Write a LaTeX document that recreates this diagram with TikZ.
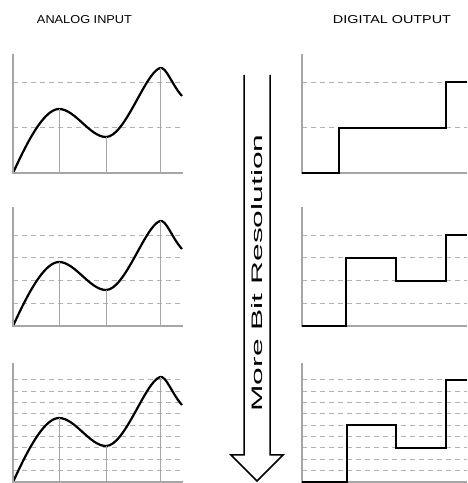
\documentclass[tikz,border=0pt]{standalone}
\usepackage{fontspec}
\setmainfont{Liberation Sans}
\usepackage{graphicx}
\tikzset{
 axisline/.style={black!35,line width=2pt},
 gridline/.style={black!30,line width=1pt,dash pattern=on 5pt off 4pt},
 sampleline/.style={black!35,line width=1pt},
 wave/.style={black,line width=2.2pt},
 stepline/.style={black,line width=2pt},
 bigarrow/.style={black,line width=1.5pt,fill=white,line join=miter},
}
\def\lev{11.35}

\begin{document}
\begin{tikzpicture}[x=1pt,y=1pt]
\useasboundingbox (0,0) rectangle (467,483);
\node[inner sep=0] (ain) at (84.5,463) {\resizebox{95pt}{8pt}{ANALOG INPUT}};
\node[inner sep=0] (dout) at (392,463) {\resizebox{118pt}{8pt}{DIGITAL OUTPUT}};
% rows: coarse to fine quantisation
\foreach \by/\lst/\xa/\la/\lb/\lc in {310/{4,8}/37/4/4/8,157/{2,4,6,8}/44/6/4/8,1/{1,...,9}/45/5/3/9}{
 \begin{scope}[shift={(13,\by)}]
  \coordinate (o) at (0,0);
  \coordinate (pk1) at (46,64);
  \coordinate (tr) at (93,36);
  \coordinate (pk2) at (147,105);
  \foreach \k in \lst {\draw[gridline] (0,\k*\lev)--(167,\k*\lev);}
  \draw[wave] (o) .. controls (12,26) and (30,64) .. (pk1) .. controls (62,64) and (77,36) .. (tr) .. controls (112,36) and (132,100) .. (pk2) .. controls (153,107) and (159,88) .. (169,77);
  \foreach \c in {pk1,tr,pk2}{\draw[sampleline] (\c)--(\c|-o);}
  \draw[axisline] (0,119)--(o)--(170,0);
 \end{scope}
 \begin{scope}[shift={(302,\by)}]
  \foreach \k in \lst {\draw[gridline] (0,\k*\lev)--(165,\k*\lev);}
  \draw[axisline] (0,119)--(0,0)--(165,0);
 \end{scope}
 \begin{scope}[shift={(302,\by)},y=\lev pt]
  \draw[stepline] (0,0) -| (\xa,\la) -| (94,\lb) -| (144,\lc) -- (165,\lc);
 \end{scope}
}
% big arrow
\draw[bigarrow] (244,408) -- (244,28) -- (231,28) -- (257,2) -- (283,28) -- (270,28) -- (270,408);
\node[rotate=90,inner sep=0] (res) at (257,210) {\resizebox{277pt}{11pt}{More Bit Resolution}};
\end{tikzpicture}
\end{document}
